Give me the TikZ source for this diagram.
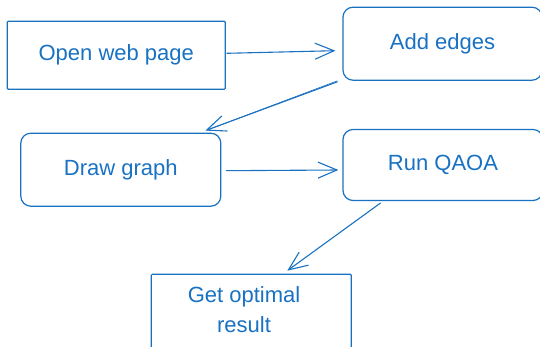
\documentclass[tikz,border=0pt]{standalone}
\usepackage{fontspec}
\setmainfont{Liberation Sans}
\usetikzlibrary{arrows.meta,calc}
\definecolor{ink}{HTML}{1971C2}
\begin{document}
\begin{tikzpicture}[x=1pt,y=-1pt,
  box/.style={draw=ink, line width=1.2pt, text=ink, font=\fontsize{22}{30}\selectfont,
    inner sep=0pt, align=center, rounded corners=1pt},
  roundbox/.style={box, rounded corners=10pt},
  flow/.style={draw=ink, line width=1.1pt, line cap=round,
    -{Straight Barb[length=19pt,width=16pt,line width=1.1pt]}}]
\useasboundingbox (0,0) rectangle (540,347);

% process boxes
\node[box, minimum width=218pt, minimum height=68pt] (b1) at (116.3,55.3) {Open web page};
\node[roundbox, minimum width=199pt, minimum height=73pt] (b2) at (442.5,43.7) {Add edges};
\node[roundbox, minimum width=200pt, minimum height=73pt] (b3) at (120.8,169.7) {Draw graph};
\node[roundbox, minimum width=200pt, minimum height=71pt] (b4) at (443,165) {Run QAOA};
\node[box, minimum width=200pt, minimum height=76pt] (b5) at (251.3,312.3) {};
\node[text=ink, font=\fontsize{22}{30}\selectfont, align=center] (t5) at (244,310) {Get optimal\\result};

% connectors
\draw[flow] ($(b1.east)+(1,-2)$) -- ($(b2.west)+(-7,7)$);
\draw[draw=ink, line width=0.6pt] ($(b2.south west)+(-5,0)$) -- ($(b3.north east)+(-13,-3)$);
\draw[flow] ($(b2.south west)+(-5,1)$) -- ($(b3.north east)+(-16,-2)$);
\draw[flow] ($(b3.east)+(5,1)$) -- ($(b4.west)+(-4,5)$);
\draw[flow] ($(b4.south west)+(38,2)$) -- ($(b5.north)+(36,-3)$);
\end{tikzpicture}
\end{document}
